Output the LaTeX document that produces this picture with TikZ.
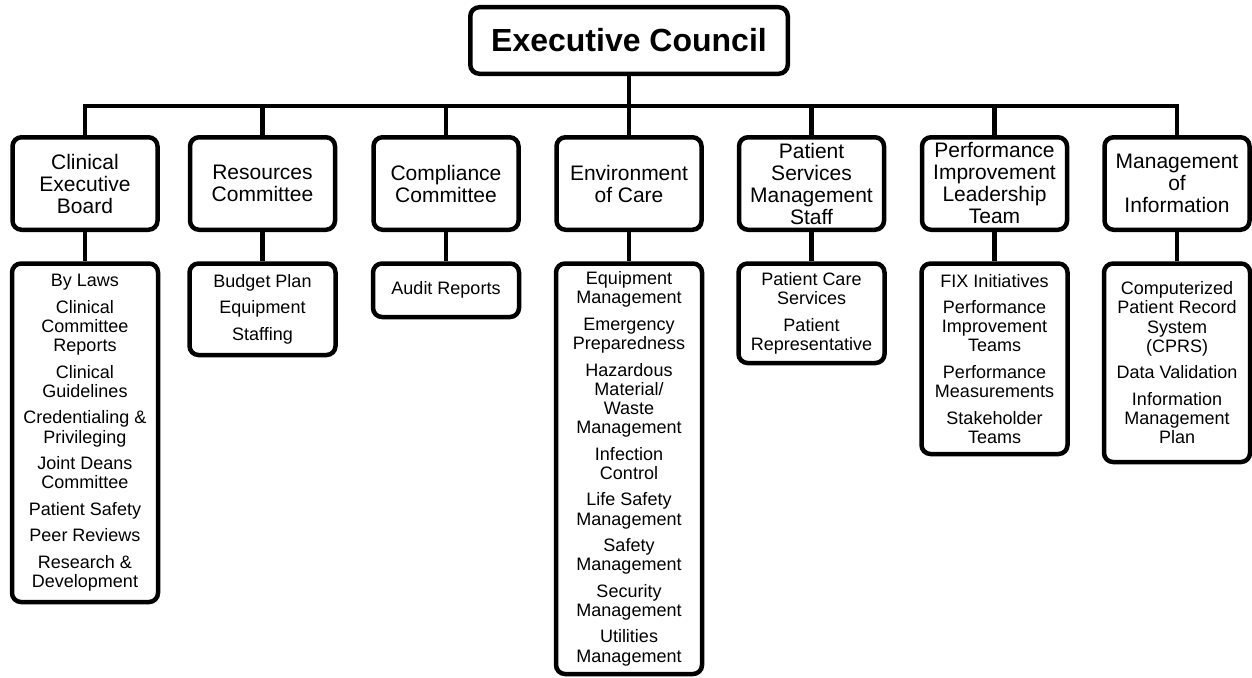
\documentclass[tikz,border=0pt]{standalone}
\usepackage{fontspec}
\setmainfont{Liberation Sans}
\begin{document}
\begin{tikzpicture}[x=1pt,y=-1pt,
  box/.style={draw, line width=4.5pt, rounded corners=9pt, align=center, inner sep=0pt, fill=white},
  lone/.style={box, minimum width=145pt, minimum height=92.5pt, font=\fontsize{21}{22}\selectfont},
  ltwo/.style={box, minimum width=146pt, anchor=north, font=\fontsize{18}{19.2}\selectfont},
  conn/.style={line width=4.5pt}]
\useasboundingbox (0,0) rectangle (1252,677);
\coordinate (bar) at (0,106);
\node[box, minimum width=317.5pt, minimum height=66.5pt, font=\fontsize{32}{36}\selectfont\bfseries] (top) at (629,40.5) {Executive Council};
% level one
\node[lone] (c1) at (85,183.5) {Clinical\\Executive\\Board};
\node[lone] (c2) at (262.5,183.5) {Resources\\Committee};
\node[lone] (c3) at (446,183.5) {Compliance\\Committee};
\node[lone] (c4) at (629,183.5) {Environment\\of Care};
\node[lone] (c5) at (811.5,183.5) {Patient\\Services\\Management\\Staff};
\node[lone] (c6) at (994.5,183.5) {Performance\\Improvement\\Leadership\\Team};
\node[lone] (c7) at (1177,183.5) {Management\\of\\Information};
% level two
\node[ltwo, minimum height=338.5pt] (d1) at (85,261.25) {By Laws\\[7.3pt]Clinical\\Committee\\Reports\\[7.3pt]Clinical\\Guidelines\\[7.3pt]Credentialing \&\\Privileging\\[7.3pt]Joint Deans\\Committee\\[7.3pt]Patient Safety\\[7.3pt]Peer Reviews\\[7.3pt]Research \&\\Development};
\node[ltwo, minimum height=91.5pt] (d2) at (262.5,261.25) {Budget Plan\\[7.3pt]Equipment\\[7.3pt]Staffing};
\node[ltwo, minimum height=53.5pt] (d3) at (446,261.25) {Audit Reports};
\node[ltwo, minimum height=410.5pt] (d4) at (629,261.25) {Equipment\\Management\\[7.3pt]Emergency\\Preparedness\\[7.3pt]Hazardous\\Material/\\Waste\\Management\\[7.3pt]Infection\\Control\\[7.3pt]Life Safety\\Management\\[7.3pt]Safety\\Management\\[7.3pt]Security\\Management\\[7.3pt]Utilities\\Management};
\node[ltwo, minimum height=99.5pt] (d5) at (811.5,261.25) {Patient Care\\Services\\[7.3pt]Patient\\Representative};
\node[ltwo, minimum height=190.5pt] (d6) at (994.5,261.25) {FIX Initiatives\\[7.3pt]Performance\\Improvement\\Teams\\[7.3pt]Performance\\Measurements\\[7.3pt]Stakeholder\\Teams};
\node[ltwo, minimum height=198.5pt] (d7) at (1177,261.25) {Computerized\\Patient Record\\System\\(CPRS)\\[7.3pt]Data Validation\\[7.3pt]Information\\Management\\Plan};
% connectors
\draw[conn] (top.south) -- (top.south |- bar);
\draw[conn] (c1.north) -- (c1.north |- bar) -- (c7.north |- bar) -- (c7.north);
\foreach \i in {2,3,4,5,6}{\draw[conn] (c\i.north) -- (c\i.north |- bar);}
\foreach \i in {1,...,7}{\draw[conn] (c\i.south) -- (d\i.north);}
\end{tikzpicture}
\end{document}
